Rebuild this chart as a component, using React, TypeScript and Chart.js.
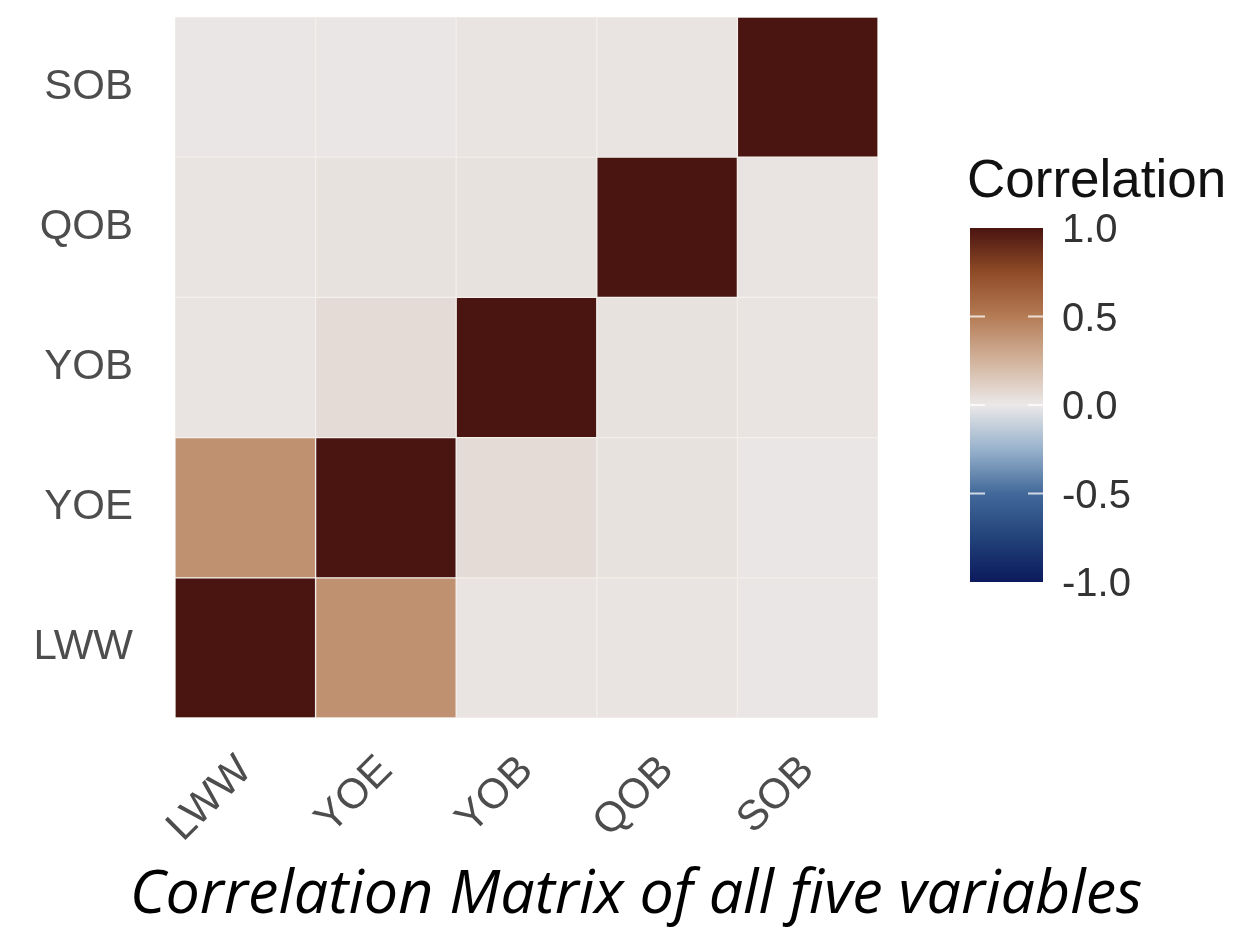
import React, { useEffect, useRef } from 'react';
import { Chart, registerables } from 'chart.js';

Chart.register(...registerables);

const variables = ['LWW', 'YOE', 'YOB', 'QOB', 'SOB'];
const corrLWW = [1.0, 0.4, 0.02, 0.02, 0.01];
const corrYOE = [0.4, 1.0, 0.06, 0.03, 0.01];
const corrYOB = [0.02, 0.06, 1.0, 0.03, 0.02];
const corrQOB = [0.02, 0.03, 0.03, 1.0, 0.02];
const corrSOB = [0.01, 0.01, 0.02, 0.02, 1.0];
const legendTicks = [1.0, 0.5, 0.0, -0.5, -1.0];
const legendTitle = 'Correlation';
const chartTitle = 'Correlation Matrix of all five variables';

const colorStops: [number, string][] = [
  [-1, '#0c1a5c'],
  [-0.75, '#22427a'],
  [-0.5, '#42699a'],
  [-0.25, '#98b2cc'],
  [0, '#ebe8e8'],
  [0.25, '#d2b39c'],
  [0.5, '#b47b55'],
  [0.75, '#8f4b27'],
  [1, '#4a1410'],
];

function hexToRgb(h: string) {
  const n = parseInt(h.slice(1), 16);
  return [(n >> 16) & 255, (n >> 8) & 255, n & 255];
}

function colorFor(v: number) {
  for (let i = 0; i < colorStops.length - 1; i++) {
    const [a, ca] = colorStops[i];
    const [b, cb] = colorStops[i + 1];
    if (v >= a && v <= b) {
      const t = (v - a) / (b - a);
      const A = hexToRgb(ca);
      const B = hexToRgb(cb);
      const c = A.map((x, k) => Math.round(x + (B[k] - x) * t));
      return `rgb(${c[0]},${c[1]},${c[2]})`;
    }
  }
  return colorStops[colorStops.length - 1][1];
}

const FONT = "'Liberation Sans', Arial, sans-serif";

const colorbarPlugin = {
  id: 'colorbarLegend',
  beforeDatasetsDraw(chart: any) {
    const { ctx, chartArea } = chart;
    ctx.save();
    ctx.fillStyle = '#e9e5e2';
    ctx.fillRect(chartArea.left, chartArea.top, chartArea.right - chartArea.left, chartArea.bottom - chartArea.top);
    ctx.restore();
  },
  afterDraw(chart: any) {
    const ctx = chart.ctx;
    const x0 = 970, x1 = 1043, yTop = 228, yBot = 582;
    const yOf = (v: number) => yTop + ((1 - v) / 2) * (yBot - yTop);
    ctx.save();
    ctx.fillStyle = '#111';
    ctx.font = `53px ${FONT}`;
    ctx.textAlign = 'left';
    ctx.textBaseline = 'alphabetic';
    ctx.fillText(legendTitle, 967, 197);

    const g = ctx.createLinearGradient(0, yTop, 0, yBot);
    colorStops.forEach(([v, c]) => g.addColorStop((1 - v) / 2, c));
    ctx.fillStyle = g;
    ctx.fillRect(x0, yTop, x1 - x0, yBot - yTop);

    ctx.strokeStyle = 'rgba(255,255,255,0.75)';
    ctx.lineWidth = 2;
    legendTicks.forEach((v) => {
      if (Math.abs(v) === 1) return;
      const y = yOf(v);
      ctx.beginPath();
      ctx.moveTo(x0, y);
      ctx.lineTo(x0 + 15, y);
      ctx.moveTo(x1 - 15, y);
      ctx.lineTo(x1, y);
      ctx.stroke();
    });

    ctx.fillStyle = '#333';
    ctx.font = `40px ${FONT}`;
    legendTicks.forEach((v) => {
      ctx.fillText(v.toFixed(1), 1062, yOf(v) + 14);
    });

    // figure caption
    ctx.fillStyle = '#000';
    ctx.font = `italic 61px 'Open Sans', sans-serif`;
    ctx.textAlign = 'center';
    ctx.fillText(chartTitle, 636, 913);
    ctx.restore();
  },
};

const rows = [corrLWW, corrYOE, corrYOB, corrQOB, corrSOB];

export default function App() {
  const ref = useRef<HTMLCanvasElement | null>(null);
  useEffect(() => {
    if (!ref.current) return;
    const datasets = rows.map((row, j) => ({
      label: variables[j],
      data: variables.map(() => [j, j + 1]),
      backgroundColor: row.map(colorFor),
      borderColor: 'rgba(248,243,238,0.6)',
      borderWidth: 1,
      borderSkipped: false,
      grouped: false,
      barPercentage: 1,
      categoryPercentage: 1,
    }));
    const chart = new Chart(ref.current, {
      type: 'bar',
      data: { labels: variables, datasets: datasets as any },
      options: {
        animation: false,
        responsive: true,
        maintainAspectRatio: false,
        layout: { padding: { top: 17, right: 359, left: 0, bottom: 69 } },
        plugins: {
          legend: { display: false },
          tooltip: { enabled: false },
          title: { display: false },
        },
        scales: {
          x: {
            type: 'category',
            grid: { display: false, drawTicks: false },
            border: { display: false },
            ticks: {
              minRotation: 45,
              maxRotation: 45,
              autoSkip: false,
              color: '#4d4d4d',
              font: { family: FONT, size: 42 },
              padding: 28,
            },
            afterFit: (s: any) => {
              s.height = 145;
              s.paddingLeft = 0;
              s.paddingRight = 0;
            },
          },
          y: {
            type: 'linear',
            min: 0,
            max: 5,
            grid: { display: false, drawTicks: false },
            border: { display: false },
            afterBuildTicks: (s: any) => {
              s.ticks = variables.map((_, i) => ({ value: i + 0.5 }));
            },
            ticks: {
              autoSkip: false,
              color: '#4d4d4d',
              font: { family: FONT, size: 42 },
              padding: 42,
              callback: (v: any) => variables[Math.round(Number(v) - 0.5)],
            },
            afterFit: (s: any) => {
              s.width = 175;
              s.paddingTop = 0;
              s.paddingBottom = 0;
            },
          },
        },
      },
      plugins: [colorbarPlugin],
    });
    return () => chart.destroy();
  }, []);
  return (
    <div style={{ position: 'fixed', left: 0, top: 0, width: 1237, height: 932, background: '#fff' }}>
      <canvas ref={ref} />
    </div>
  );
}
